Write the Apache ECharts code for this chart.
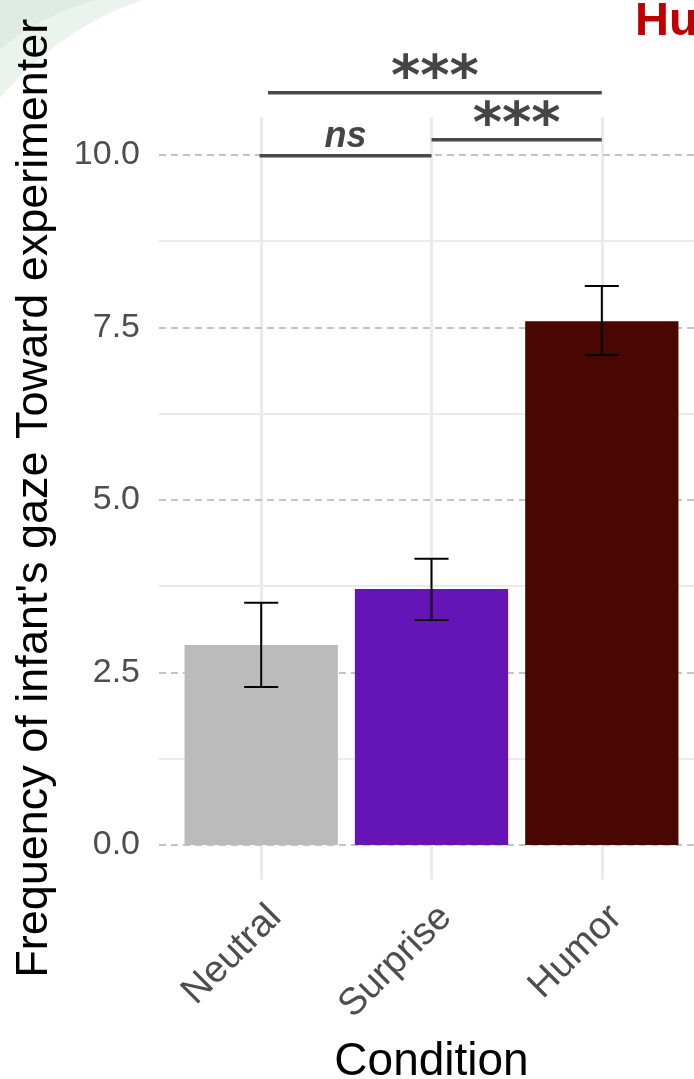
<!DOCTYPE html>
<html>
<head>
<meta charset="utf-8">
<script src="https://cdn.jsdelivr.net/npm/echarts@6/dist/echarts.min.js"></script>
<style>
html,body{margin:0;padding:0;background:#fff;}
#chart{width:694px;height:1079px;}
</style>
</head>
<body>
<div id="chart"></div>
<script>
// ---- data ----
const categories = ['Neutral', 'Surprise', 'Humor'];
const means = [2.90, 3.71, 7.59];
const errLow = [2.29, 3.26, 7.10];
const errHigh = [3.51, 4.15, 8.10];
const yTicks = [0, 2.5, 5, 7.5, 10];
const yMinor = [1.25, 3.75, 6.25, 8.75];
const sigFrom = [0.99, 2.0, 1.04];
const sigTo = [2.0, 3.0, 3.0];
const sigLevel = [9.99, 10.22, 10.90];
const sigLabel = ['ns', '***', '***'];

// ---- styles ----
const barColors = ['#BBBBBB', '#6515B5', '#4A0600'];
const FONT = "'Liberation Sans', Arial, sans-serif";

// decorative corner swoosh (background of the source slide)
function swoosh(x0, y1, cx, cy) {
  const pts = [[0, 0]];
  for (let k = 0; k <= 20; k++) {
    const t = k / 20;
    const x = (1 - t) * (1 - t) * x0 + 2 * (1 - t) * t * cx;
    const y = 2 * (1 - t) * t * cy + t * t * y1;
    pts.push([x, y]);
  }
  return pts;
}

const chart = echarts.init(document.getElementById('chart'), null, {renderer: 'canvas'});

const catPos = categories.map((c, i) => i + 1);

const option = {
  animation: false,
  backgroundColor: '#ffffff',
  title: {
    text: 'Humor',
    left: 630, top: -6,
    textStyle: {fontFamily: FONT, fontSize: 47, fontWeight: 'bold', color: '#C00000'}
  },
  graphic: [
    {type: 'polygon', z: -10, shape: {points: swoosh(142, 98, 60, 28)},
     style: {fill: '#eaf3ec'}},
    {type: 'polygon', z: -9, shape: {points: swoosh(95, 50, 35, 18)},
     style: {fill: 'rgba(200,222,205,0.3)'}}
  ],
  grid: {left: 159, right: -10, top: 117, bottom: 199.5, containLabel: false, outerBoundsMode: 'none'},
  xAxis: {
    type: 'value', min: 0.4, max: 3.6,
    axisLine: {show: false}, axisTick: {show: false}, splitLine: {show: false},
    axisLabel: {
      customValues: catPos,
      formatter: v => categories[Math.round(v) - 1],
      rotate: 45, margin: 18, align: 'right', verticalAlign: 'top', lineHeight: 40,
      fontFamily: FONT, fontSize: 38, color: '#4D4D4D'
    },
    name: 'Condition', nameLocation: 'middle', nameGap: 160,
    nameTextStyle: {fontFamily: FONT, fontSize: 46, color: '#000'}
  },
  yAxis: {
    type: 'value', min: -0.5, max: 10.55,
    axisLine: {show: false}, axisTick: {show: false}, splitLine: {show: false},
    axisLabel: {
      customValues: yTicks,
      formatter: v => v.toFixed(1),
      margin: 19, fontFamily: FONT, fontSize: 34, color: '#4D4D4D'
    },
    name: "Frequency of infant's gaze Toward experimenter", nameLocation: 'middle', nameGap: 102,
    nameTextStyle: {fontFamily: FONT, fontSize: 45, color: '#000'}
  },
  series: [
    {
      type: 'line', data: [], z: 1, silent: true,
      markLine: {
        silent: true, symbol: 'none', animation: false, label: {show: false}, z: 1,
        data: [].concat(
          yMinor.map(v => ({yAxis: v, lineStyle: {color: '#EBEBEB', width: 2, type: 'solid'}})),
          catPos.map(v => ({xAxis: v, lineStyle: {color: '#EBEBEB', width: 3, type: 'solid'}})),
          yTicks.map(v => ({yAxis: v, lineStyle: {color: '#C4C4C4', width: 2, type: [7, 5]}}))
        )
      }
    },
    {
      type: 'custom', name: 'bars', z: 10,
      data: catPos.map((x, i) => [x, means[i], i]),
      encode: {x: 0, y: 1},
      renderItem: (params, api) => {
        const x = api.value(0), v = api.value(1), idx = api.value(2);
        const p0 = api.coord([x, 0]);
        const p1 = api.coord([x, v]);
        const w = api.size([0.9, 0])[0];
        return {type: 'rect', shape: {x: p0[0] - w / 2, y: p1[1], width: w, height: p0[1] - p1[1]},
                style: {fill: barColors[idx]}};
      }
    },
    {
      type: 'custom', name: 'errors', z: 11,
      data: catPos.map((x, i) => [x, errLow[i], errHigh[i]]),
      encode: {x: 0, y: [1, 2]},
      renderItem: (params, api) => {
        const x = api.value(0);
        const lo = api.coord([x, api.value(1)]);
        const hi = api.coord([x, api.value(2)]);
        const cw = api.size([0.2, 0])[0] / 2;
        const st = {stroke: '#000', lineWidth: 2};
        return {type: 'group', children: [
          {type: 'line', shape: {x1: lo[0], y1: lo[1], x2: hi[0], y2: hi[1]}, style: st},
          {type: 'line', shape: {x1: lo[0] - cw, y1: lo[1], x2: lo[0] + cw, y2: lo[1]}, style: st},
          {type: 'line', shape: {x1: hi[0] - cw, y1: hi[1], x2: hi[0] + cw, y2: hi[1]}, style: st}
        ]};
      }
    },
    {
      type: 'custom', name: 'signif', z: 12, clip: false,
      data: sigFrom.map((f, i) => [f, sigLevel[i], sigTo[i], i]),
      encode: {x: [0, 2], y: 1},
      renderItem: (params, api) => {
        const a = api.coord([api.value(0), api.value(1)]);
        const b = api.coord([api.value(2), api.value(1)]);
        const idx = api.value(3);
        const lbl = sigLabel[idx];
        const isNs = lbl === 'ns';
        return {type: 'group', children: [
          {type: 'line', shape: {x1: a[0], y1: a[1], x2: b[0], y2: b[1]},
           style: {stroke: '#4A4A4A', lineWidth: 3.5}},
          {type: 'text', style: {
            text: lbl, x: (a[0] + b[0]) / 2, y: isNs ? a[1] - 1 : a[1] + 15,
            align: 'center', verticalAlign: 'bottom',
            font: isNs ? "italic bold 36px 'Liberation Sans', Arial, sans-serif"
                       : "bold 56px 'DejaVu Sans', sans-serif",
            fill: '#454545'
          }}
        ]};
      }
    }
  ]
};
chart.setOption(option);
</script>
</body>
</html>
